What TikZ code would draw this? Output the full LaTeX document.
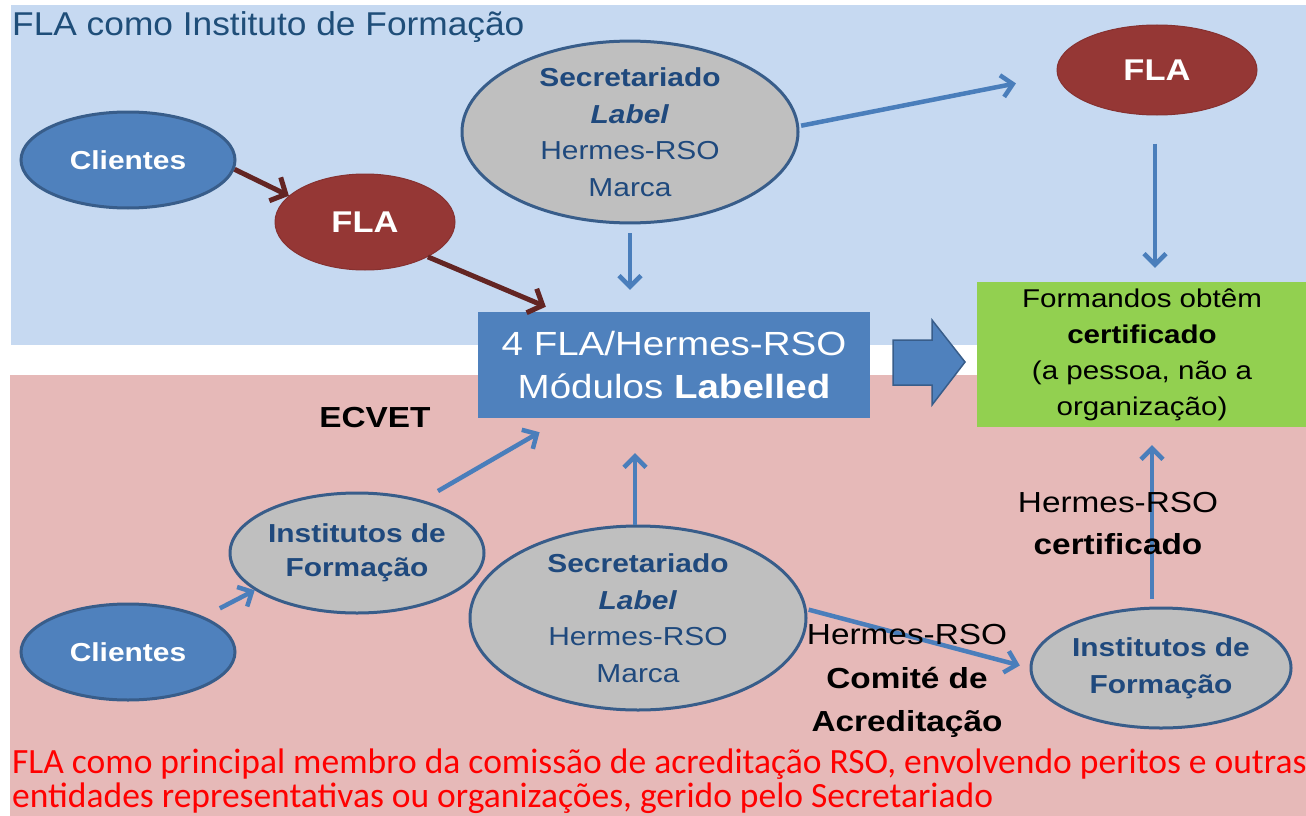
\documentclass[tikz,border=0pt]{standalone}
\usepackage{fontspec}
\setmainfont[FakeStretch=1.15]{Liberation Sans}
\newfontfamily\titlefont[FakeStretch=1.07]{Liberation Sans}
\newfontfamily\calfont{Carlito}
\usetikzlibrary{arrows.meta,shapes.geometric}
\definecolor{bgblue}{HTML}{C6D9F1}
\definecolor{bgpink}{HTML}{E6B9B8}
\definecolor{nblue}{HTML}{4F81BD}
\definecolor{nborder}{HTML}{385D8A}
\definecolor{nred}{HTML}{953735}
\definecolor{ngray}{HTML}{BFBFBF}
\definecolor{tblue}{HTML}{1F497D}
\definecolor{darrow}{HTML}{632523}
\definecolor{barrow}{HTML}{4A7EBB}
\definecolor{ngreen}{HTML}{92D050}
\definecolor{ttitle}{HTML}{1F4E79}
\tikzset{
  ell/.style={ellipse, inner sep=0pt, line width=3pt, align=center},
  blueell/.style={ell, fill=nblue, draw=nborder, text=white, font=\fontsize{26}{30}\selectfont\bfseries},
  redell/.style={ell, fill=nred, draw=nred!90!black, line width=1pt, text=white, font=\fontsize{30}{34}\selectfont\bfseries},
  grayell/.style={ell, fill=ngray, draw=nborder, text=tblue},
  redarr/.style={draw=darrow, line width=5pt, -{Straight Barb[length=12pt,width=26pt,line width=5pt]}},
  bluearr/.style={draw=barrow, line width=4.5pt, -{Straight Barb[length=11pt,width=22pt,line width=4.5pt]}},
  lbl/.style={align=center, text=black, inner sep=0pt}
}
\begin{document}
\begin{tikzpicture}[x=1pt,y=-1pt]
\useasboundingbox (0,0) rectangle (1306,816);
\fill[white] (0,0) rectangle (1306,816);
\fill[bgblue] (11,5) rectangle (1306,345);
\fill[bgpink] (10,375) rectangle (1306,816);

\node[anchor=base west, text=ttitle, inner sep=0pt, font=\titlefont\fontsize{33}{36}\selectfont] (title) at (12,36) {FLA como Instituto de Formação};

% top nodes
\node[blueell, minimum width=214, minimum height=96] (cl1) at (128,160) {Clientes};
\node[redell, minimum width=180, minimum height=96] (fla1) at (365,222) {FLA};
\node[grayell, minimum width=336, minimum height=174, font=\fontsize{26}{36.5}\selectfont] (sec1) at (630,132)
  {\textbf{Secretariado}\\\textbf{\itshape Label}\\Hermes-RSO\\Marca};
\node[redell, minimum width=200, minimum height=90] (fla2) at (1157,70) {FLA};

\node[fill=nblue, minimum width=392, minimum height=106, inner sep=0pt, text=white, align=center,
  font=\fontsize{33.5}{43}\selectfont] (box) at (674,365) {4 FLA/Hermes-RSO\\Módulos \textbf{Labelled}};
\node[fill=ngreen, minimum width=330, minimum height=145, inner sep=0pt, text=black, align=center,
  font=\fontsize{25.7}{36}\selectfont] (green) at (1142,354.5) {Formandos obtêm\\\textbf{certificado}\\(a pessoa, não a\\organização)};

% block arrow
\filldraw[fill=nblue, draw=nborder, line width=1.5pt]
  (893,340) -- (932,340) -- (932,320) -- (965,362) -- (932,405) -- (932,385) -- (893,385) -- cycle;

\node[lbl, font=\fontsize{29}{33}\selectfont\bfseries] (ecvet) at (375,418) {ECVET};

% bottom nodes
\node[grayell, minimum width=254, minimum height=120, font=\fontsize{26}{34}\selectfont\bfseries] (inst1) at (357,553)
  {Institutos de\\Formação};
\node[blueell, minimum width=214, minimum height=96] (cl2) at (128,652) {Clientes};
\node[grayell, minimum width=336, minimum height=184, font=\fontsize{26}{36.5}\selectfont] (sec2) at (638,618)
  {\textbf{Secretariado}\\\textbf{\itshape Label}\\Hermes-RSO\\Marca};
\node[grayell, minimum width=260, minimum height=120, font=\fontsize{26}{37}\selectfont\bfseries] (inst2) at (1161,668)
  {Institutos de\\Formação};

% arrows
\draw[redarr] (cl1.-5) -- (fla1.161);
\draw[redarr, shorten >=13pt] (fla1.-29) -- ([xshift=80pt]box.north west);
\draw[bluearr, shorten <=9pt, shorten >=22pt] (sec1.south) -- (sec1.south |- box.north);
\draw[bluearr, shorten <=2pt, shorten >=42pt] (sec1.2) -- (fla2.183);
\draw[bluearr, shorten <=28pt, shorten >=14pt] ([xshift=-2pt]fla2.south) -- ([xshift=-2pt]fla2.south |- green.north);
\draw[bluearr, shorten <=18pt, shorten >=28pt] (inst1.39) -- ([xshift=86pt]box.south west);
\draw[bluearr, shorten <=18pt] (cl2.25) -- (inst1.200);
\draw[bluearr, shorten >=35pt] ([xshift=-3pt]sec2.north) -- ([xshift=-3pt]sec2.north |- box.south);
\draw[bluearr, shorten <=2pt, shorten >=10pt] (sec2.3) -- (inst2.west);
\draw[bluearr, shorten <=8pt, shorten >=18pt] ([xshift=-9pt]inst2.north) -- ([xshift=-9pt]inst2.north |- green.south);

% labels
\node[lbl, font=\fontsize{29}{42}\selectfont] (lcert) at (1118,524) {Hermes-RSO\\\textbf{certificado}};
\node[lbl, font=\fontsize{29}{43.5}\selectfont] (lcom) at (907,681) {Hermes-RSO\\\textbf{Comité de}\\\textbf{Acreditação}};

% bottom red text
\node[anchor=north west, inner sep=0pt, text=red, align=left, font=\calfont\fontsize{35.5}{34}\selectfont] (foot) at (12,749)
  {FLA como principal membro da comissão de acreditação RSO, envolvendo peritos e outras\\entidades representativas ou organizações, gerido pelo Secretariado};
\end{tikzpicture}
\end{document}
